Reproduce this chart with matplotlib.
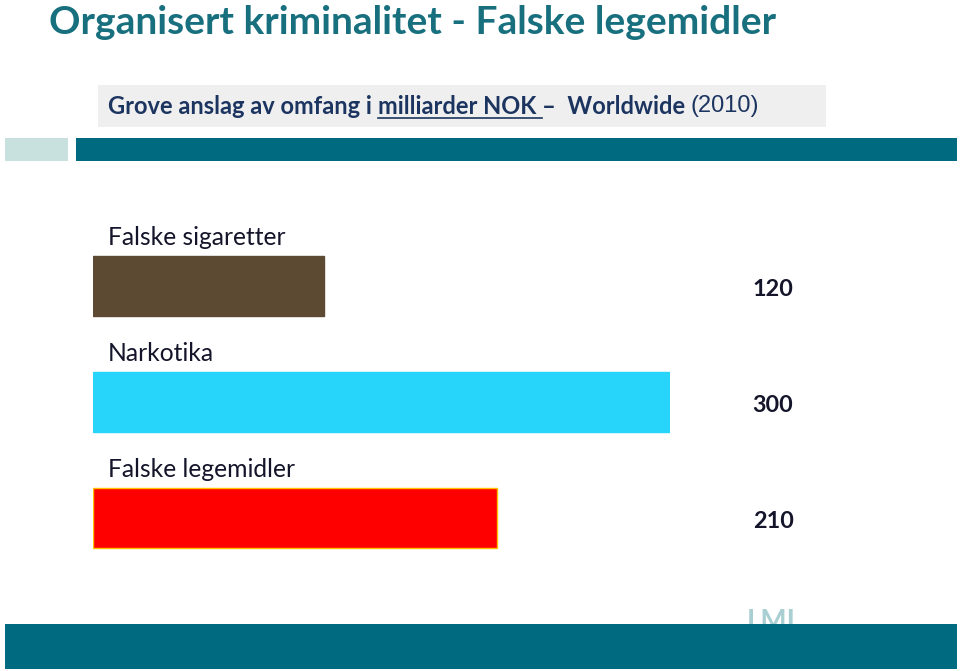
import matplotlib
matplotlib.use("Agg")
import matplotlib.pyplot as plt
from matplotlib.patches import Rectangle
from matplotlib.lines import Line2D

kategorier = ["Falske sigaretter", "Narkotika", "Falske legemidler"]
verdier = [120, 300, 210]
farger = ["#5C4A33", "#27D4FA", "#FF0000"]
kanter = ["#5C4A33", "#27D4FA", "#FFC000"]

W, H = 960, 671
fig = plt.figure(figsize=(W / 100, H / 100), dpi=100)
plt.rcParams['font.family'] = ['Lato', 'DejaVu Sans']

def px(x, y):
    # piksel (fra øverst venstre) -> figurkoordinater
    return x / W, 1 - y / H

def boks(x0, y0, x1, y1, farge, z=0):
    fig.patches.append(Rectangle(px(x0, y1), (x1 - x0) / W, (y1 - y0) / H,
                                 transform=fig.transFigure, color=farge, lw=0, zorder=z))

# tittel
fig.text(*px(49, 22), "Organisert kriminalitet - Falske legemidler", fontsize=28,
         fontweight='bold', color='#18707F', va='center', ha='left')

# undertittel med grå bakgrunn
boks(98, 85, 826, 127, '#EFEFEF')
r = fig.canvas.get_renderer()
x = 108
deler = [("Grove anslag av omfang i ", 'bold', False, 'Lato'),
         ("milliarder NOK ", 'bold', True, 'Lato'),
         ("–  Worldwide ", 'bold', False, 'Lato'),
         ("(2010)", 'normal', False, 'Liberation Sans')]
for tekst, vekt, understrek, fam in deler:
    t = fig.text(*px(x, 106), tekst, fontsize=17, fontweight=vekt, color='#1C3460',
                 va='center', ha='left', family=fam)
    bb = t.get_window_extent(renderer=r)
    if understrek:
        fig.lines.append(Line2D([bb.x0 / W, bb.x1 / W], [1 - 118 / H] * 2,
                                transform=fig.transFigure, color='#1C3460', lw=1.2))
    x += bb.width

# striper
boks(5, 138, 68, 161, '#C8E1DE')
boks(76, 138, 957, 161, '#006B80')
fig.text(*px(771, 622), "LMI", fontsize=20, fontweight='bold', color='#A9CFD2',
         ha='center', va='center', zorder=0)
boks(5, 624, 957, 669, '#006B80', z=1)

# søylediagram
ax = fig.add_axes([93 / W, 1 - 587.6 / H, 577 / W, 394.4 / H])
pos = list(range(len(kategorier)))
ax.barh(pos, verdier, height=0.51, color=farger, edgecolor=kanter, linewidth=1)
ax.set_xlim(0, 300)
ax.set_ylim(2.6, -0.8)
ax.axis('off')
for i, (k, v) in enumerate(zip(kategorier, verdier)):
    ax.text(7.8, i - 0.42, k, fontsize=17.7, color='#14142A', ha='left', va='center',
            clip_on=False)
    ax.text(353.6, i + 0.03, str(v), fontsize=16.8, fontweight='bold', color='#14142A',
            ha='center', va='center', clip_on=False)

fig.savefig("out.png", dpi=100)
